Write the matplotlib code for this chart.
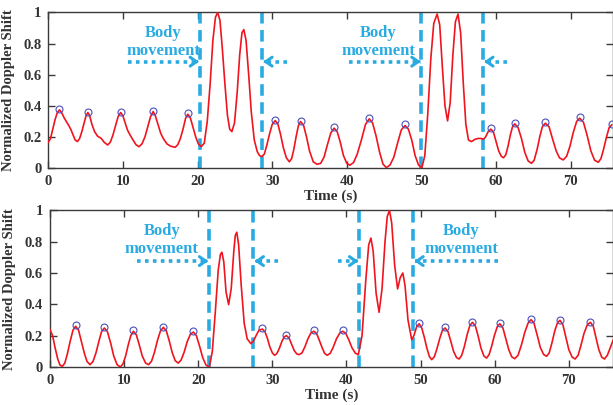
import matplotlib
matplotlib.use("Agg")
import matplotlib.pyplot as plt

plt.rcParams['font.family'] = ['Liberation Serif', 'DejaVu Serif']
plt.rcParams['font.weight'] = 'bold'

# ---------------- data ----------------
top_t = [0.0, 0.3, 0.6, 0.9, 1.2, 1.5,
         1.8, 2.1, 2.4, 2.7,
         3.0, 3.3, 3.6, 3.9,
         4.2, 4.5, 4.8, 5.05, 5.3,
         5.55, 5.85, 6.2,
         6.6, 7.1,
         7.5, 7.95,
         8.3, 8.65, 9.0, 9.35, 9.7,
         10.0, 10.3, 10.6, 10.95,
         11.35, 11.75, 12.15,
         12.55, 12.95, 13.3, 13.7, 14.05,
         14.35, 14.7, 15.05, 15.4,
         15.9, 16.4, 17.0,
         17.35, 17.7, 18.05, 18.4, 18.7,
         19.05, 19.4, 19.75, 20.1, 20.5,
         20.9, 21.3, 21.7, 22.05, 22.4, 22.7, 23.0, 23.3, 23.65, 24.0, 24.3, 24.6,
         24.95, 25.3, 25.65, 25.95, 26.2, 26.5, 26.85, 27.2, 27.6, 28.0, 28.3, 28.6,
         28.95, 29.3, 29.65, 30.0, 30.4,
         30.75, 31.1, 31.5, 31.9, 32.3,
         32.6, 32.9, 33.2, 33.5, 33.8,
         34.2, 34.6, 35.0, 35.5, 36.0,
         36.5, 36.95, 37.4, 37.85, 38.3,
         38.7, 39.1, 39.55, 40.0, 40.4,
         40.9, 41.4, 41.95, 42.5, 43.0,
         43.45, 43.9, 44.4, 44.85, 45.3,
         45.8, 46.3, 46.8, 47.3, 47.8,
         48.25, 48.7, 49.15, 49.6, 50.05,
         50.45, 50.85, 51.25, 51.65, 52.1, 52.45, 52.8, 53.15, 53.5,
         53.85, 54.2, 54.55, 54.9, 55.25, 55.6, 55.95, 56.3, 56.7, 57.2, 57.6, 58.0, 58.3,
         58.6, 58.95, 59.3,
         59.65, 60.0, 60.35, 60.7, 61.0,
         61.3, 61.6, 61.9, 62.2, 62.5,
         62.95, 63.4, 63.85, 64.3, 64.75,
         65.1, 65.5, 65.85, 66.2, 66.6,
         67.1, 67.55, 68.05, 68.5, 69.0,
         69.45, 69.9, 70.35, 70.8, 71.2,
         71.7, 72.2, 72.7, 73.2, 73.7,
         74.05, 74.4, 74.8, 75.15, 75.5]
top_y = [0.166, 0.19, 0.25, 0.31, 0.355, 0.374,
         0.355, 0.325, 0.30, 0.277,
         0.25, 0.215, 0.18, 0.17,
         0.19, 0.235, 0.29, 0.335, 0.357,
         0.335, 0.28, 0.234,
         0.205, 0.19,
         0.165, 0.148,
         0.165, 0.21, 0.27, 0.33, 0.357,
         0.335, 0.29, 0.245, 0.213,
         0.18, 0.15, 0.137,
         0.155, 0.2, 0.26, 0.33, 0.363,
         0.335, 0.28, 0.225, 0.19,
         0.155, 0.14, 0.133,
         0.15, 0.19, 0.25, 0.32, 0.346,
         0.32, 0.26, 0.2, 0.155, 0.137,
         0.16, 0.3, 0.55, 0.82, 0.97, 1.0, 0.95, 0.78, 0.55, 0.34, 0.25, 0.234,
         0.29, 0.48, 0.73, 0.87, 0.89, 0.82, 0.6, 0.36, 0.18, 0.105, 0.08, 0.073,
         0.09, 0.15, 0.22, 0.28, 0.305,
         0.285, 0.22, 0.13, 0.065, 0.04,
         0.06, 0.12, 0.2, 0.27, 0.299,
         0.275, 0.2, 0.11, 0.04, 0.024,
         0.03, 0.07, 0.15, 0.225, 0.256,
         0.235, 0.17, 0.08, 0.03, 0.018,
         0.035, 0.09, 0.18, 0.28, 0.316,
         0.29, 0.21, 0.1, 0.025, 0.002,
         0.02, 0.07, 0.16, 0.245, 0.273,
         0.25, 0.18, 0.08, 0.02, 0.0,
         0.08, 0.35, 0.7, 0.93, 0.99, 0.92, 0.65, 0.4, 0.303,
         0.42, 0.72, 0.94, 0.99, 0.87, 0.55, 0.28, 0.18, 0.17, 0.185, 0.19, 0.19, 0.185,
         0.2, 0.235, 0.25,
         0.23, 0.17, 0.11, 0.075, 0.066,
         0.085, 0.14, 0.21, 0.265, 0.284,
         0.26, 0.19, 0.1, 0.045, 0.03,
         0.05, 0.12, 0.2, 0.265, 0.288,
         0.265, 0.19, 0.11, 0.065, 0.052,
         0.075, 0.14, 0.23, 0.3, 0.32,
         0.295, 0.21, 0.11, 0.05, 0.037,
         0.06, 0.12, 0.2, 0.26, 0.277]
top_peak_t = [1.5, 5.3, 9.7, 14.05, 18.7, 30.4, 33.8, 38.3, 43.0, 47.8, 59.3, 62.5, 66.6, 71.2, 75.5]
top_peak_y = [0.38, 0.36, 0.362, 0.368, 0.352, 0.31, 0.303, 0.262, 0.322, 0.28, 0.255, 0.29, 0.294, 0.326, 0.283]
top_lines = [20.3, 28.6, 50.0, 58.2]

bot_t = [0.0, 0.35, 0.7, 1.05, 1.35, 1.66,
         2.0, 2.35, 2.7, 3.1, 3.46,
         3.85, 4.25, 4.65, 5.0, 5.4,
         5.8, 6.2, 6.6, 6.95, 7.33,
         7.75, 8.2, 8.6, 9.05, 9.5,
         9.85, 10.2, 10.55, 10.9, 11.25,
         11.65, 12.05, 12.45, 12.9, 13.3,
         13.7, 14.1, 14.5, 14.9, 15.3,
         15.7, 16.1, 16.5, 16.9, 17.3,
         17.7, 18.1, 18.5, 18.95, 19.35,
         19.75, 20.2, 20.6, 21.05, 21.5,
         21.9, 22.3, 22.7, 23.0, 23.2, 23.45, 23.75, 24.1, 24.45, 24.8, 25.0, 25.2,
         25.45, 25.8, 26.2, 26.6, 27.1,
         27.45, 27.8, 28.2, 28.65,
         29.0, 29.35, 29.65, 30.0, 30.3,
         30.6, 30.95, 31.3, 31.6, 31.9,
         32.25, 32.6, 32.95, 33.3, 33.6,
         34.0, 34.4, 34.8, 35.2, 35.6,
         35.95, 36.3, 36.7, 37.05, 37.4,
         37.8, 38.2, 38.65, 39.1, 39.5,
         39.9, 40.3, 40.75, 41.2, 41.6,
         42.1, 42.6, 43.0, 43.3, 43.6, 44.0, 44.4, 44.8, 45.2, 45.5, 45.8,
         46.1, 46.5, 46.9, 47.25, 47.6, 47.9, 48.3, 48.8,
         49.1, 49.45, 49.8,
         50.15, 50.5, 50.85, 51.2, 51.5,
         51.85, 52.2, 52.6, 52.95, 53.3,
         53.7, 54.1, 54.45, 54.85, 55.2,
         55.55, 55.9, 56.3, 56.65, 57.0,
         57.4, 57.75, 58.15, 58.55, 58.9,
         59.25, 59.6, 59.95, 60.35, 60.7,
         61.1, 61.5, 61.9, 62.3, 62.7,
         63.15, 63.6, 64.05, 64.5, 64.9,
         65.3, 65.75, 66.15, 66.6, 67.0,
         67.35, 67.7, 68.1, 68.45, 68.8,
         69.2, 69.6, 70.0, 70.45, 70.85,
         71.25, 71.65, 72.05, 72.5, 72.9,
         73.3, 73.65, 74.05, 74.45, 74.8,
         75.2, 75.6, 76.0]
bot_y = [0.238, 0.2, 0.12, 0.05, 0.012, 0.004,
         0.025, 0.085, 0.16, 0.235, 0.26,
         0.235, 0.16, 0.085, 0.035, 0.015,
         0.035, 0.09, 0.165, 0.225, 0.249,
         0.225, 0.15, 0.07, 0.015, 0.0,
         0.02, 0.07, 0.14, 0.2, 0.228,
         0.205, 0.14, 0.07, 0.025, 0.015,
         0.037, 0.095, 0.17, 0.23, 0.253,
         0.23, 0.165, 0.09, 0.04, 0.025,
         0.045, 0.095, 0.16, 0.21, 0.223,
         0.2, 0.13, 0.06, 0.012, 0.0,
         0.1, 0.35, 0.62, 0.72, 0.732, 0.67, 0.48, 0.398, 0.5, 0.74, 0.84, 0.86,
         0.78, 0.52, 0.28, 0.18, 0.149,
         0.165, 0.2, 0.235, 0.242,
         0.225, 0.18, 0.13, 0.09, 0.075,
         0.085, 0.12, 0.165, 0.192, 0.2,
         0.185, 0.145, 0.105, 0.083, 0.079,
         0.09, 0.13, 0.18, 0.217, 0.228,
         0.215, 0.175, 0.125, 0.087, 0.075,
         0.087, 0.125, 0.18, 0.217, 0.228,
         0.215, 0.175, 0.122, 0.088, 0.079,
         0.2, 0.55, 0.78, 0.823, 0.74, 0.47, 0.349, 0.5, 0.8, 0.96, 1.0,
         0.92, 0.65, 0.498, 0.57, 0.6, 0.52, 0.3, 0.174,
         0.2, 0.255, 0.276,
         0.25, 0.19, 0.12, 0.065, 0.047,
         0.065, 0.115, 0.185, 0.235, 0.249,
         0.225, 0.16, 0.1, 0.06, 0.051,
         0.075, 0.13, 0.21, 0.265, 0.285,
         0.26, 0.2, 0.12, 0.07, 0.057,
         0.08, 0.135, 0.2, 0.258, 0.276,
         0.25, 0.18, 0.11, 0.065, 0.053,
         0.075, 0.14, 0.22, 0.28, 0.302,
         0.28, 0.2, 0.125, 0.08, 0.068,
         0.09, 0.15, 0.23, 0.28, 0.298,
         0.27, 0.19, 0.11, 0.063, 0.051,
         0.075, 0.14, 0.215, 0.27, 0.285,
         0.26, 0.19, 0.11, 0.062, 0.051,
         0.075, 0.125, 0.174]
bot_peak_t = [3.46, 7.33, 11.25, 15.3, 19.35, 28.65, 31.9, 35.6, 39.5, 49.8, 53.3, 57.0, 60.7, 64.9, 68.8, 72.9]
bot_peak_y = [0.265, 0.255, 0.234, 0.258, 0.229, 0.248, 0.206, 0.233, 0.233, 0.282, 0.255, 0.29, 0.281, 0.307, 0.303, 0.29]
bot_lines = [21.46, 27.4, 41.7, 48.95]

x_ticks = [0, 10, 20, 30, 40, 50, 60, 70]
y_ticks = [0, 0.2, 0.4, 0.6, 0.8, 1.0]
y_ticklabels = ['0', '0.2', '0.4', '0.6', '0.8', '1']
ann_text = 'Body\nmovement'

assert len(top_t) == len(top_y) and len(bot_t) == len(bot_y)

# ---------------- styling ----------------
RED = '#F0141E'
BLUE_C = '#4B4FB8'
CYAN = '#29ABE2'
SPINE = '#3A3A3A'

W, H = 613, 405
fig = plt.figure(figsize=(W / 100, H / 100), dpi=100)

def px_axes(left, right, top, bottom):
    return fig.add_axes([left / W, 1 - bottom / H, (right - left) / W, (bottom - top) / H])

ax1 = px_axes(48.3, 612.5, 12.5, 168)
ax2 = px_axes(50, 613.3, 210.3, 367)

def style(ax, xmax):
    ax.set_xlim(0, xmax)
    ax.set_ylim(0, 1)
    ax.set_xticks(x_ticks)
    ax.set_yticks(y_ticks)
    ax.set_yticklabels(y_ticklabels)
    ax.tick_params(direction='in', top=True, right=True, length=5, width=1,
                   colors=SPINE, labelsize=10.5, pad=5)
    for lab in ax.get_xticklabels() + ax.get_yticklabels():
        lab.set_fontweight('bold')
        lab.set_color('#333333')
    for s in ax.spines.values():
        s.set_color(SPINE)
        s.set_linewidth(1.0)
    ax.set_xlabel('Time (s)', fontsize=11, fontweight='bold', color='#333333', labelpad=1)
    ax.set_ylabel('Normalized Doppler Shift', fontsize=10.5, fontweight='bold',
                  color='#333333', labelpad=6)

def arrow(ax, x0, x1, y):
    ax.plot([x0, x1], [y, y], linestyle=(0, (1, 1.2)), color=CYAN, lw=2.6,
            solid_capstyle='butt', zorder=4)
    d = 1 if x1 > x0 else -1
    ax.annotate('', xy=(x1, y), xytext=(x1 - d * 0.6, y),
                arrowprops=dict(arrowstyle='->,head_length=0.45,head_width=0.32',
                                color=CYAN, lw=2.2, shrinkA=0, shrinkB=0), zorder=5)

def label(ax, x, y):
    ax.text(x, y, ann_text, ha='center', va='center', color=CYAN, fontsize=12,
            fontweight='bold', linespacing=1.1, zorder=5)

# top panel
ax1.plot(top_t, top_y, color=RED, lw=1.2, zorder=3)
ax1.plot(top_peak_t, top_peak_y, 'o', mfc='none', mec=BLUE_C, ms=5, mew=0.8, zorder=4)
for x in top_lines:
    ax1.axvline(x, color=CYAN, lw=2.6, linestyle=(0, (3.2, 1.8)), zorder=2)
label(ax1, 15.4, 0.81)
arrow(ax1, 10.7, 20.2, 0.684)
arrow(ax1, 32.0, 28.8, 0.684)
label(ax1, 44.2, 0.81)
arrow(ax1, 40.3, 49.9, 0.684)
arrow(ax1, 61.5, 58.4, 0.684)
style(ax1, 75.6)

# bottom panel
ax2.plot(bot_t, bot_y, color=RED, lw=1.2, zorder=3)
ax2.plot(bot_peak_t, bot_peak_y, 'o', mfc='none', mec=BLUE_C, ms=5, mew=0.8, zorder=4)
for x in bot_lines:
    ax2.axvline(x, color=CYAN, lw=2.6, linestyle=(0, (3.2, 1.8)), zorder=2)
label(ax2, 15.1, 0.81)
arrow(ax2, 11.7, 21.35, 0.676)
arrow(ax2, 30.8, 27.6, 0.676)
arrow(ax2, 38.9, 41.6, 0.676)
label(ax2, 55.5, 0.81)
arrow(ax2, 60.5, 49.15, 0.676)
style(ax2, 76.0)

fig.savefig('out.png', dpi=100)
